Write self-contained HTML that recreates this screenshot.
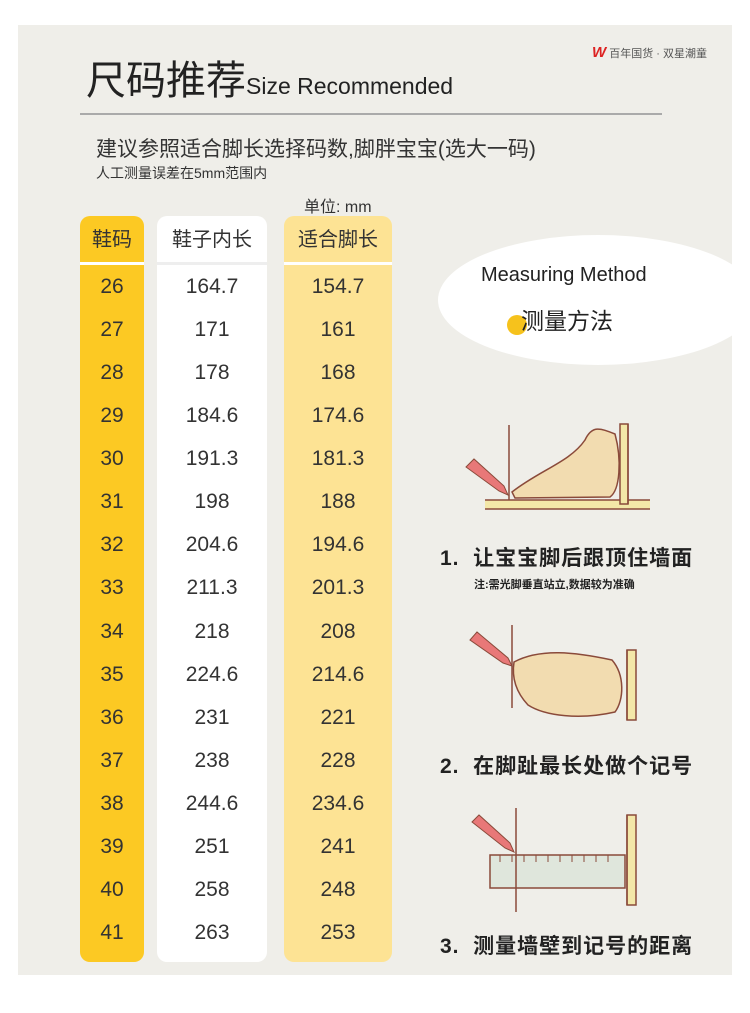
<!DOCTYPE html>
<html><head><meta charset="utf-8"><style>
body{margin:0;width:750px;height:1013px;background:#fff;position:relative;overflow:hidden;font-family:"Liberation Sans","Noto Sans CJK SC",sans-serif;color:#222}
.p{position:absolute}
.panel{left:18px;top:25px;width:714px;height:950px;background:#efeee9;overflow:hidden}
.col{position:absolute;top:216px;height:746px;border-radius:10px;overflow:hidden}
.cell{height:43.07px;line-height:43px;text-align:center;font-size:21px;color:#333}
.hd{height:46px;line-height:48px;text-align:center;font-size:20px;color:#333;border-bottom:3px solid #fff}
.step{font-size:21px;color:#222;font-weight:bold;letter-spacing:1px}
</style></head><body>
<div class="p panel">
 <div class="p" style="left:420px;top:210px;width:320px;height:130px;border-radius:50%;background:#fff"></div>
 <div class="p" style="left:489px;top:290px;width:20px;height:20px;border-radius:50%;background:#f6c21c"></div>
</div>
<div class="p" style="left:86px;top:48px;font-size:40px;color:#222;white-space:nowrap">尺码推荐<span style="font-size:23px">Size Recommended</span></div>
<div class="p" style="left:592px;top:44px;font-size:11px;color:#555"><span style="color:#d22;font-weight:bold;font-style:italic;font-size:15px">W</span> 百年国货 · 双星潮童</div>
<div class="p" style="left:80px;top:113px;width:582px;height:2px;background:#aaa"></div>
<div class="p" style="left:96px;top:133px;font-size:21px;color:#333;white-space:nowrap">建议参照适合脚长选择码数,脚胖宝宝(选大一码)</div>
<div class="p" style="left:96px;top:163px;font-size:14px;color:#333">人工测量误差在5mm范围内</div>
<div class="p" style="left:304px;top:193px;font-size:16px;color:#333">单位: mm</div>
<div class="col" style="left:80px;width:64px;background:#fcc923">
<div class="hd">鞋码</div>
<div class="cell">26</div><div class="cell">27</div><div class="cell">28</div><div class="cell">29</div><div class="cell">30</div><div class="cell">31</div><div class="cell">32</div><div class="cell">33</div><div class="cell">34</div><div class="cell">35</div><div class="cell">36</div><div class="cell">37</div><div class="cell">38</div><div class="cell">39</div><div class="cell">40</div><div class="cell">41</div></div>
<div class="col" style="left:157px;width:110px;background:#fff">
<div class="hd" style="border-bottom-color:#eee">鞋子内长</div>
<div class="cell">164.7</div><div class="cell">171</div><div class="cell">178</div><div class="cell">184.6</div><div class="cell">191.3</div><div class="cell">198</div><div class="cell">204.6</div><div class="cell">211.3</div><div class="cell">218</div><div class="cell">224.6</div><div class="cell">231</div><div class="cell">238</div><div class="cell">244.6</div><div class="cell">251</div><div class="cell">258</div><div class="cell">263</div></div>
<div class="col" style="left:284px;width:108px;background:#fde394">
<div class="hd">适合脚长</div>
<div class="cell">154.7</div><div class="cell">161</div><div class="cell">168</div><div class="cell">174.6</div><div class="cell">181.3</div><div class="cell">188</div><div class="cell">194.6</div><div class="cell">201.3</div><div class="cell">208</div><div class="cell">214.6</div><div class="cell">221</div><div class="cell">228</div><div class="cell">234.6</div><div class="cell">241</div><div class="cell">248</div><div class="cell">253</div></div>
<div class="p" style="left:481px;top:264px;font-size:20px;color:#222">Measuring Method</div>
<div class="p" style="left:521px;top:302px;font-size:23px;color:#222">测量方法</div>
<svg class="p" style="left:0;top:0" width="750" height="1013">
<g stroke="#8a4a3a" stroke-width="1.5" fill="none">
<rect x="485" y="500" width="165" height="9" fill="#f3e7a8" stroke="none"/>
<line x1="485" y1="500" x2="650" y2="500"/><line x1="485" y1="509" x2="650" y2="509"/>
<line x1="509" y1="425" x2="509" y2="500"/>
<path d="M512 492 C540 470 570 462 585 440 C592 425 600 428 615 434 C622 460 620 490 610 497 L515 498 Z" fill="#f2dcb0"/>
<rect x="620" y="424" width="8" height="80" fill="#f3e7a8"/><line x1="628" y1="424" x2="628" y2="504"/>
<line x1="512" y1="625" x2="512" y2="708"/>
<path d="M514 662 C540 648 575 652 612 660 C625 675 624 700 615 712 C580 720 545 716 528 705 C514 690 512 675 514 662 Z" fill="#f2dcb0"/>
<rect x="627" y="650" width="9" height="70" fill="#f3e7a8"/><line x1="627" y1="650" x2="627" y2="720"/>
<rect x="490" y="855" width="135" height="33" fill="#dfe6dc"/>
<line x1="516" y1="808" x2="516" y2="912"/>
<rect x="627" y="815" width="9" height="90" fill="#f3e7a8"/><line x1="627" y1="815" x2="627" y2="905"/>
</g>
<g stroke="#8a4a3a" stroke-width="1">
<line x1="500" y1="855" x2="500" y2="862"/><line x1="512" y1="855" x2="512" y2="862"/><line x1="524" y1="855" x2="524" y2="862"/><line x1="536" y1="855" x2="536" y2="862"/><line x1="548" y1="855" x2="548" y2="862"/><line x1="560" y1="855" x2="560" y2="862"/><line x1="572" y1="855" x2="572" y2="862"/><line x1="584" y1="855" x2="584" y2="862"/><line x1="596" y1="855" x2="596" y2="862"/><line x1="608" y1="855" x2="608" y2="862"/>
</g>
<g fill="#e87878" stroke="#8a4a3a">
<polygon points="466,467 474,459 504,486 508,495 499,491"/>
<polygon points="470,640 477,632 508,658 512,666 503,663"/>
<polygon points="472,822 479,815 510,843 514,852 505,848"/>
</g>
</svg>
<div class="p step" style="left:440px;top:542px">1.&nbsp; 让宝宝脚后跟顶住墙面</div>
<div class="p" style="left:474px;top:576px;font-size:11px;font-weight:bold;color:#222">注:需光脚垂直站立,数据较为准确</div>
<div class="p step" style="left:440px;top:750px">2.&nbsp; 在脚趾最长处做个记号</div>
<div class="p step" style="left:440px;top:930px">3.&nbsp; 测量墙壁到记号的距离</div>
</body></html>
